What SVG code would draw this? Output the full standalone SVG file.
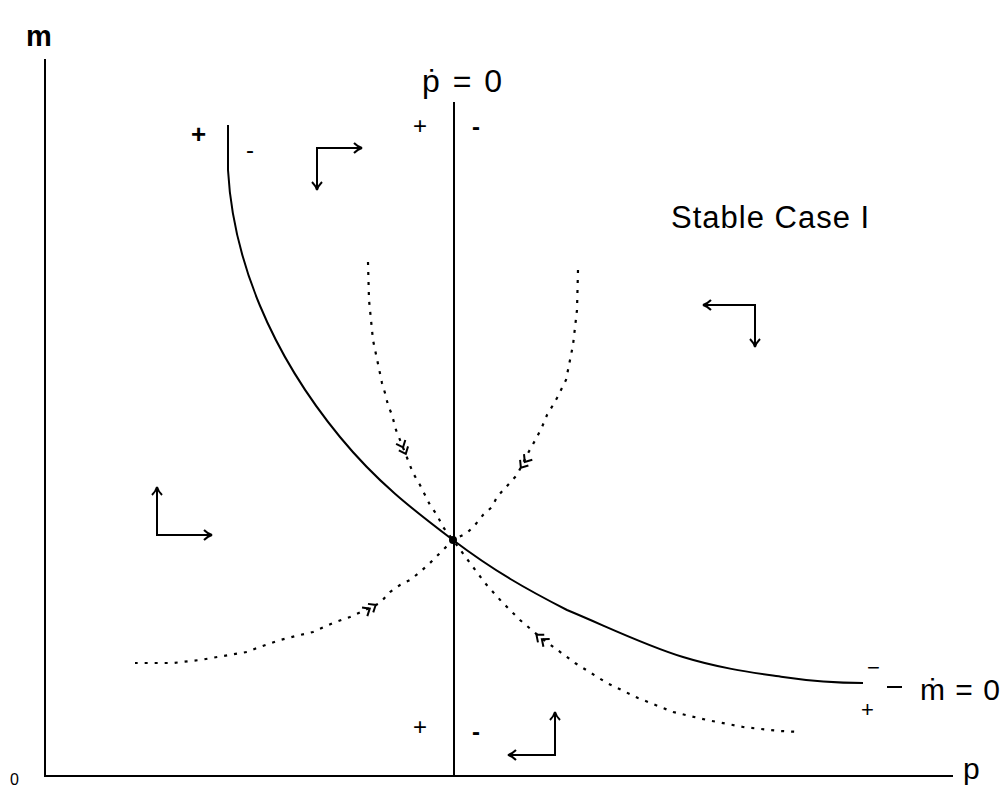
<svg xmlns="http://www.w3.org/2000/svg" width="1006" height="791" viewBox="0 0 1006 791">
<style>
  .ln{stroke:#000;stroke-width:2;fill:none}
  .dot{stroke:#000;stroke-width:2.2;fill:none;stroke-dasharray:3 7;stroke-linecap:butt}
  .t{font-family:"Liberation Sans",Arial,sans-serif;fill:#000}
  .ch{stroke:#000;stroke-width:2;fill:none}
</style>
<defs>
  <marker id="ah" viewBox="0 0 12 12" refX="10" refY="6" markerWidth="12" markerHeight="12" markerUnits="userSpaceOnUse" orient="auto-start-reverse">
    <path d="M2,1 Q6,5 10,6 Q6,7 2,11" stroke="#000" stroke-width="2" fill="none"/>
  </marker>
  <path id="chev" d="M-11,-5 L-5,0 L-11,5 M-4,-5 L2,0 L-4,5" class="ch"/>
</defs>
<rect width="1006" height="791" fill="#fff"/>

<g id="axes">
  <line class="ln" x1="45" y1="59" x2="45" y2="777"/>
  <line class="ln" x1="44" y1="776" x2="953" y2="776"/>
  <text class="t" x="26" y="46" font-size="29" font-weight="bold">m</text>
  <text class="t" x="963" y="779" font-size="30">p</text>
  <text class="t" x="10" y="785" font-size="16">0</text>
</g>

<g id="p-dot-zero">
  <line class="ln" x1="454" y1="102" x2="454" y2="776"/>
  <text class="t" x="422" y="92" font-size="32" letter-spacing="2">ṗ = 0</text>
  <text class="t" x="413" y="134" font-size="24">+</text>
  <text class="t" x="472" y="135" font-size="24" font-weight="bold">-</text>
  <text class="t" x="413" y="735" font-size="24">+</text>
  <text class="t" x="472" y="740" font-size="24" font-weight="bold">-</text>
</g>

<g id="m-dot-zero">
  <path class="ln" d="M228,125 L228,170 C233,260 271,353 340,437 C377,482 412,509 453,540 C494,571 526,589 567,610 C608,627 644,645 683,657 C722,669 756,673 783,677 C810,681 840,683 863,683"/>
  <text class="t" x="191" y="143" font-size="26" font-weight="bold">+</text>
  <text class="t" x="246" y="158" font-size="24">-</text>
  <text class="t" x="867" y="675" font-size="22">−</text>
  <text class="t" x="861" y="717" font-size="22">+</text>
  <line class="ln" x1="887" y1="687" x2="902" y2="687"/>
  <text class="t" x="920" y="700" font-size="30" letter-spacing="1">ṁ = 0</text>
</g>

<g id="stable-arm-A">
  <polyline class="dot" points="368,262 369,300 373,340 382,383 385,393 388,405 392,415 396,430 404,450 413,473 420,485 425,495 430,505 437,515 443,527 453,540 470,563 485,583 502,602 520,620 540,637 575,663 607,683 638,698 673,712 707,720 743,727 780,731 800,732"/>
  <use href="#chev" transform="translate(405,452) rotate(67)"/>
  <use href="#chev" transform="translate(538,636) rotate(219)"/>
</g>

<g id="stable-arm-B">
  <polyline class="dot" points="578,270 577,310 573,345 566,380 557,398 553,405 547,415 542,427 537,437 527,455 517,475 497,497 492,507 483,515 475,525 467,533 453,540 440,553 430,563 420,572 410,580 400,585 390,592 380,603 350,617 333,623 313,632 300,635 280,640 257,648 247,652 223,656 200,660 173,663 135,663"/>
  <use href="#chev" transform="translate(522,466) rotate(124)"/>
  <use href="#chev" transform="translate(374,606) rotate(-32)"/>
</g>

<g id="equilibrium">
  <circle cx="453" cy="540" r="4" fill="#000"/>
</g>

<g id="direction-arrows">
  <polyline class="ln" points="362,148 317,148 317,190" marker-start="url(#ah)" marker-end="url(#ah)"/>
  <polyline class="ln" points="703,305 755,305 755,347" marker-start="url(#ah)" marker-end="url(#ah)"/>
  <polyline class="ln" points="157,487 157,535 212,535" marker-start="url(#ah)" marker-end="url(#ah)"/>
  <polyline class="ln" points="555,712 555,755 508,755" marker-start="url(#ah)" marker-end="url(#ah)"/>
</g>

<g id="title">
  <text class="t" x="671" y="228" font-size="31" letter-spacing="1">Stable Case I</text>
</g>
</svg>
